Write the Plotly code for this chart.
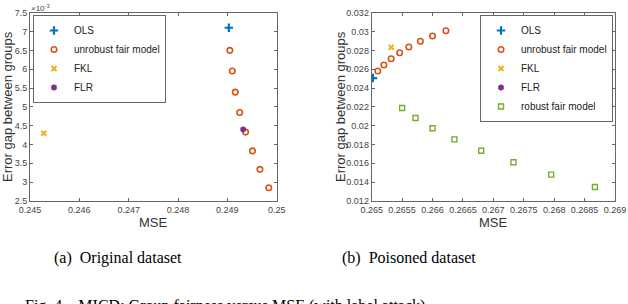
import plotly.graph_objects as go

# ---------------- data: (a) Original dataset ----------------
a_ols_x = [0.24903]
a_ols_y = [7.10]
a_unrob_x = [0.24905, 0.24910, 0.24916, 0.24925, 0.24937, 0.24951, 0.24966, 0.24984]
a_unrob_y = [6.50, 5.95, 5.39, 4.85, 4.33, 3.83, 3.34, 2.85]
a_fkl_x = [0.24528]
a_fkl_y = [4.30]
a_flr_x = [0.24932]
a_flr_y = [4.40]

# ---------------- data: (b) Poisoned dataset ----------------
b_ols_x = [0.26502]
b_ols_y = [0.02506]
b_unrob_x = [0.26510, 0.26520, 0.26532, 0.26546, 0.26561, 0.26580, 0.26600, 0.26622]
b_unrob_y = [0.02580, 0.02644, 0.02711, 0.02775, 0.02835, 0.02896, 0.02952, 0.03009]
b_fkl_x = [0.26532]
b_fkl_y = [0.02832]
b_flr_x = [0.26702]
b_flr_y = [0.02775]
b_rob_x = [0.26550, 0.26572, 0.26600, 0.26636, 0.26680, 0.26733, 0.26795, 0.26867]
b_rob_y = [0.02188, 0.02081, 0.01972, 0.01855, 0.01734, 0.01611, 0.01480, 0.01349]

# ---------------- tick labels ----------------
a_xtick_vals = [0.245, 0.246, 0.247, 0.248, 0.249, 0.25]
a_xtick_text = ["0.245", "0.246", "0.247", "0.248", "0.249", "0.25"]
a_ytick_vals = [2.5, 3, 3.5, 4, 4.5, 5, 5.5, 6, 6.5, 7, 7.5]
a_ytick_text = ["2.5", "3", "3.5", "4", "4.5", "5", "5.5", "6", "6.5", "7", "7.5"]
b_xtick_vals = [0.265, 0.2655, 0.266, 0.2665, 0.267, 0.2675, 0.268, 0.2685, 0.269]
b_xtick_text = ["0.265", "0.2655", "0.266", "0.2665", "0.267", "0.2675", "0.268", "0.2685", "0.269"]
b_ytick_vals = [0.012, 0.014, 0.016, 0.018, 0.02, 0.022, 0.024, 0.026, 0.028, 0.03, 0.032]
b_ytick_text = ["0.012", "0.014", "0.016", "0.018", "0.02", "0.022", "0.024", "0.026", "0.028", "0.03", "0.032"]

C_OLS = "#0072BD"
C_UNR = "#D95319"
C_FKL = "#EDB120"
C_FLR = "#7E2F8E"
C_ROB = "#77AC30"

fig = go.Figure()

def add(x, y, name, sym, color, size, lw, xa, ya, legend):
    fig.add_trace(go.Scatter(
        x=x, y=y, mode="markers", name=name, xaxis=xa, yaxis=ya, legend=legend,
        marker=dict(symbol=sym, color=color, size=size, line=dict(color=color, width=lw)),
    ))

add(a_ols_x, a_ols_y, "OLS", "cross-thin-open", C_OLS, 6, 2.2, "x", "y", "legend")
add(a_unrob_x, a_unrob_y, "unrobust fair model", "circle-open", C_UNR, 5.5, 1.6, "x", "y", "legend")
add(a_fkl_x, a_fkl_y, "FKL", "x-thin-open", C_FKL, 5, 2, "x", "y", "legend")
add(a_flr_x, a_flr_y, "FLR", "hexagon", C_FLR, 6.5, 0, "x", "y", "legend")

add(b_ols_x, b_ols_y, "OLS", "cross-thin-open", C_OLS, 6, 2.2, "x2", "y2", "legend2")
add(b_unrob_x, b_unrob_y, "unrobust fair model", "circle-open", C_UNR, 5.5, 1.6, "x2", "y2", "legend2")
add(b_fkl_x, b_fkl_y, "FKL", "x-thin-open", C_FKL, 5, 2, "x2", "y2", "legend2")
add(b_flr_x, b_flr_y, "FLR", "hexagon", C_FLR, 6.5, 0, "x2", "y2", "legend2")
add(b_rob_x, b_rob_y, "robust fair model", "square-open", C_ROB, 5, 1.4, "x2", "y2", "legend2")

W, H = 628, 304
AX = dict(showline=True, linecolor="#666666", linewidth=1, mirror="ticks", ticks="inside",
          ticklen=3, tickcolor="#666666", showgrid=False, zeroline=False, automargin=False,
          tickfont=dict(family="Liberation Sans, Arial", size=9, color="#444444"))
ytop = 1 - 12.7 / H
ybot = 1 - 201 / H

fig.update_layout(
    width=W, height=H, margin=dict(l=0, r=0, t=0, b=0, autoexpand=False),
    paper_bgcolor="white", plot_bgcolor="white",
    font=dict(family="Liberation Sans, Arial", color="#333333"),
    xaxis=dict(AX, domain=[30 / W, 276.7 / W], range=[0.245, 0.25], anchor="y",
               tickvals=a_xtick_vals, ticktext=a_xtick_text),
    yaxis=dict(AX, domain=[ybot, ytop], range=[2.5, 7.5], anchor="x",
               tickvals=a_ytick_vals, ticktext=a_ytick_text),
    xaxis2=dict(AX, domain=[371.7 / W, 615 / W], range=[0.265, 0.269], anchor="y2",
                tickvals=b_xtick_vals, ticktext=b_xtick_text),
    yaxis2=dict(AX, domain=[ybot, ytop], range=[0.012, 0.032], anchor="x2",
                tickvals=b_ytick_vals, ticktext=b_ytick_text),
    legend=dict(x=33 / W, y=1 - 15 / H, xanchor="left", yanchor="top",
                bordercolor="#666666", borderwidth=1, bgcolor="white",
                font=dict(size=10, color="#222222"), tracegroupgap=0),
    legend2=dict(x=613 / W, y=1 - 15 / H, xanchor="right", yanchor="top",
                 bordercolor="#666666", borderwidth=1, bgcolor="white",
                 font=dict(size=10, color="#222222"), tracegroupgap=0),
    showlegend=True,
)

SANS = "Liberation Sans, Arial"
def note(text, x, y, size, family=SANS, color="#333333", xanchor="center", yanchor="middle", angle=0):
    fig.add_annotation(text=text, xref="paper", yref="paper", x=x / W, y=1 - y / H,
                       xanchor=xanchor, yanchor=yanchor, showarrow=False, textangle=angle,
                       font=dict(family=family, size=size, color=color))

# axis titles
note("MSE", 153, 222, 13)
note("MSE", 493, 222, 13)
note("Error gap between groups", 7, 107, 13, angle=-90)
note("Error gap between groups", 340, 107, 13, angle=-90)
# exponent label
fig.add_annotation(text="×10<sup>-3</sup>", xref="paper", yref="paper", x=29 / W, y=1 - 1 / H,
                   xanchor="left", yanchor="top", showarrow=False,
                   font=dict(family=SANS, size=8, color="#444444"))

SERIF = "Liberation Serif, Times New Roman, serif"
note("(a)  Original dataset", 118, 258, 16, family=SERIF, color="black")
note("(b)  Poisoned dataset", 409, 258, 16, family=SERIF, color="black")
note("Fig. 4.   MICD: Group fairness versus MSE (with label attack)", 23, 306, 16,
     family=SERIF, color="black", xanchor="left", yanchor="middle")

fig.write_html("out.html", config={"displayModeBar": False},
               post_script="document.body.style.margin='0';")
